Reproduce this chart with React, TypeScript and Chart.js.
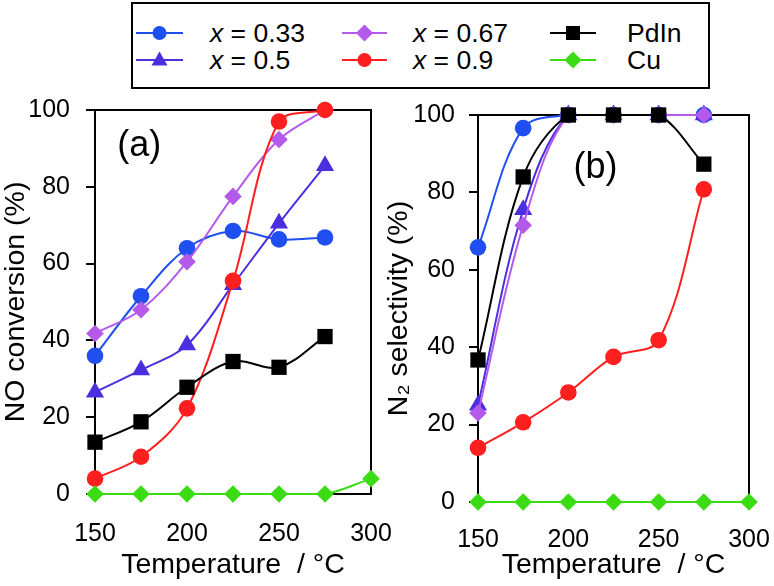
import React, { useEffect, useRef } from "react";
import { Chart, registerables } from "chart.js";

Chart.register(...registerables);

const FONT = "'Liberation Sans', Arial, Helvetica, sans-serif";

// ---- data ----
const temperatures = [150, 175, 200, 225, 250, 275, 300];
const xTickStep = 50;
const yTickStep = 20;

const seriesPrefix = ["x", "x", "x", "x", "", ""];
const seriesNames = [" = 0.33", " = 0.5", " = 0.67", " = 0.9", "PdIn", "Cu"];

// Panel (a): NO conversion (%)
const convX033 = [36, 51.5, 64, 68.5, 66.3, 66.8];
const convX05 = [26.5, 32.3, 38.8, 54.5, 70.5, 85.5];
const convX067 = [41.8, 48, 60.5, 77.5, 92.3, 100];
const convX09 = [4, 9.7, 22.3, 55.5, 97, 100];
const convPdIn = [13.5, 18.8, 27.8, 34.5, 33, 41];
const convCu = [0, 0, 0, 0, 0, 0, 4];

// Panel (b): N2 selectivity (%)
const selX033 = [65.8, 96.6, 100, 100, 100, 100];
const selX05 = [25, 75.5, 100, 100, 100, 100];
const selX067 = [23, 71.5, 100, 100, 100, 100];
const selX09 = [14, 20.6, 28.3, 37.5, 41.8, 80.8];
const selPdIn = [36.7, 84, 100, 100, 100, 87.3];
const selCu = [0, 0, 0, 0, 0, 0, 0];

// ---- styles ----
const seriesColors = ["#1f4ff0", "#4a2fe0", "#b45aeb", "#ff1f1f", "#000000", "#3cdc14"];
const seriesShapes = ["circle", "triangle", "rectRot", "circle", "rect", "rectRot"];
const seriesRadii = [8.3, 10.5, 8.8, 8.3, 10.8, 8.8];

type PanelCfg = {
  values: number[][];
  yTitle: string;
  label: string;
  labelAt: [number, number];
  left: number;
  top: number;
  w: number;
  h: number;
  yWidth: number;
  xHeight: number;
  padTop: number;
  padRight: number;
  xTickPad: number;
  yTickPad: number;
};

const panelA: PanelCfg = {
  values: [convX033, convX05, convX067, convX09, convPdIn, convCu],
  yTitle: "NO conversion (%)",
  label: "(a)",
  labelAt: [174, 90.6],
  left: 0,
  top: 95,
  w: 400,
  h: 491,
  yWidth: 95,
  xHeight: 92,
  padTop: 15,
  padRight: 29,
  xTickPad: 17,
  yTickPad: 16,
};

const panelB: PanelCfg = {
  values: [selX033, selX05, selX067, selX09, selPdIn, selCu],
  yTitle: "N\u2082 selectivity (%)",
  label: "(b)",
  labelAt: [215, 86.3],
  left: 383,
  top: 95,
  w: 391,
  h: 491,
  yWidth: 95,
  xHeight: 84,
  padTop: 20,
  padRight: 25,
  xTickPad: 15,
  yTickPad: 14,
};

const framePlugin = {
  id: "frame",
  beforeDatasetsDraw(chart: any, _args: any, opts: any) {
    const { ctx, chartArea: a } = chart;
    ctx.save();
    ctx.strokeStyle = "#000";
    ctx.lineWidth = 2;
    ctx.strokeRect(a.left, a.top, a.right - a.left, a.bottom - a.top);
    ctx.fillStyle = "#000";
    ctx.font = `36px ${FONT}`;
    ctx.textAlign = "center";
    ctx.textBaseline = "middle";
    const px = chart.scales.x.getPixelForValue(opts.at[0]);
    const py = chart.scales.y.getPixelForValue(opts.at[1]);
    ctx.fillText(opts.text, px, py);
    ctx.restore();
  },
};

function buildDatasets(values: number[][]) {
  return values.map((vals, i) => ({
    label: seriesPrefix[i] + seriesNames[i],
    data: vals.map((v, j) => ({ x: temperatures[j], y: v })),
    borderColor: seriesColors[i],
    backgroundColor: seriesColors[i],
    pointStyle: seriesShapes[i] as any,
    pointRadius: seriesRadii[i],
    pointBorderWidth: 0,
    borderWidth: 2,
    tension: 0.35,
    clip: false as any,
    order: values.length - i,
  }));
}

function PanelChart({ cfg }: { cfg: PanelCfg }) {
  const ref = useRef<HTMLCanvasElement>(null);
  useEffect(() => {
    const chart = new Chart(ref.current as HTMLCanvasElement, {
      type: "line",
      data: { datasets: buildDatasets(cfg.values) as any },
      plugins: [framePlugin as any],
      options: {
        responsive: false,
        animation: false,
        devicePixelRatio: 1,
        layout: { padding: { top: cfg.padTop, right: cfg.padRight, left: 0, bottom: 0 } },
        plugins: {
          legend: { display: false },
          tooltip: { enabled: false },
          frame: { text: cfg.label, at: cfg.labelAt },
        } as any,
        scales: {
          x: {
            type: "linear",
            min: temperatures[0],
            max: temperatures[temperatures.length - 1],
            ticks: {
              stepSize: xTickStep,
              padding: cfg.xTickPad,
              color: "#000",
              font: { family: FONT, size: 25 },
              maxRotation: 0,
              autoSkip: false,
            },
            grid: { display: false },
            border: { display: false },
            title: {
              display: true,
              text: "Temperature  / \u00b0C",
              color: "#000",
              font: { family: FONT, size: 28.5 },
              padding: { top: 0, bottom: 4 },
            },
            afterFit: (s: any) => {
              s.height = cfg.xHeight;
              s.paddingLeft = 0;
              s.paddingRight = 0;
            },
          },
          y: {
            type: "linear",
            min: 0,
            max: 100,
            ticks: {
              stepSize: yTickStep,
              padding: cfg.yTickPad,
              color: "#000",
              font: { family: FONT, size: 25 },
            },
            grid: {
              display: true,
              drawOnChartArea: false,
              drawTicks: true,
              tickLength: 9,
              color: "#000",
              lineWidth: 2,
            },
            border: { display: false },
            title: {
              display: true,
              text: cfg.yTitle,
              color: "#000",
              font: { family: FONT, size: 28.5 },
              padding: { top: -1, bottom: 0 },
            },
            afterFit: (s: any) => {
              s.width = cfg.yWidth;
              s.paddingTop = 0;
              s.paddingBottom = 0;
            },
          },
        } as any,
      },
    });
    return () => chart.destroy();
  }, []);
  return (
    <canvas
      ref={ref}
      width={cfg.w}
      height={cfg.h}
      style={{ position: "absolute", left: cfg.left, top: cfg.top, width: cfg.w, height: cfg.h }}
    />
  );
}

function Marker({ shape, color, cx, cy }: { shape: string; color: string; cx: number; cy: number }) {
  if (shape === "circle") return <circle cx={cx} cy={cy} r={7} fill={color} />;
  if (shape === "triangle")
    return <polygon points={`${cx},${cy - 8.5} ${cx + 8},${cy + 5.5} ${cx - 8},${cy + 5.5}`} fill={color} />;
  if (shape === "rectRot")
    return <polygon points={`${cx},${cy - 8.5} ${cx + 8.5},${cy} ${cx},${cy + 8.5} ${cx - 8.5},${cy}`} fill={color} />;
  return <rect x={cx - 7} y={cy - 7} width={14} height={14} fill={color} />;
}

// legend layout: columns (line start, line end, text start) and row centres
const legendCols = [
  [136, 183, 210],
  [342, 387, 413],
  [550, 596, 627],
];
const legendRows = [33, 60];

function Legend() {
  const items = seriesNames.map((name, i) => {
    const col = legendCols[Math.floor(i / 2)];
    const y = legendRows[i % 2];
    return { name, i, col, y };
  });
  return (
    <>
      <div
        style={{
          position: "absolute",
          left: 131,
          top: 2,
          width: 579,
          height: 87,
          border: "2px solid #000",
          boxSizing: "border-box",
        }}
      />
      <svg width={774} height={95} style={{ position: "absolute", left: 0, top: 0 }}>
        {items.map(({ i, col, y }) => (
          <g key={i}>
            <line x1={col[0]} y1={y} x2={col[1]} y2={y} stroke={seriesColors[i]} strokeWidth={2} />
            <Marker shape={seriesShapes[i]} color={seriesColors[i]} cx={(col[0] + col[1]) / 2} cy={y} />
          </g>
        ))}
      </svg>
      {items.map(({ name, i, col, y }) => (
        <div
          key={"t" + i}
          style={{
            position: "absolute",
            left: col[2],
            top: y - 15,
            height: 30,
            lineHeight: "30px",
            fontFamily: FONT,
            fontSize: 26.5,
            color: "#000",
            whiteSpace: "pre",
          }}
        >
          {seriesPrefix[i] ? <span style={{ fontStyle: "italic" }}>{seriesPrefix[i]}</span> : null}
          {name}
        </div>
      ))}
    </>
  );
}

export default function App() {
  return (
    <div
      style={{
        position: "absolute",
        left: 0,
        top: 0,
        width: 774,
        height: 586,
        background: "#fff",
        overflow: "hidden",
      }}
    >
      <PanelChart cfg={panelA} />
      <PanelChart cfg={panelB} />
      <Legend />
    </div>
  );
}
